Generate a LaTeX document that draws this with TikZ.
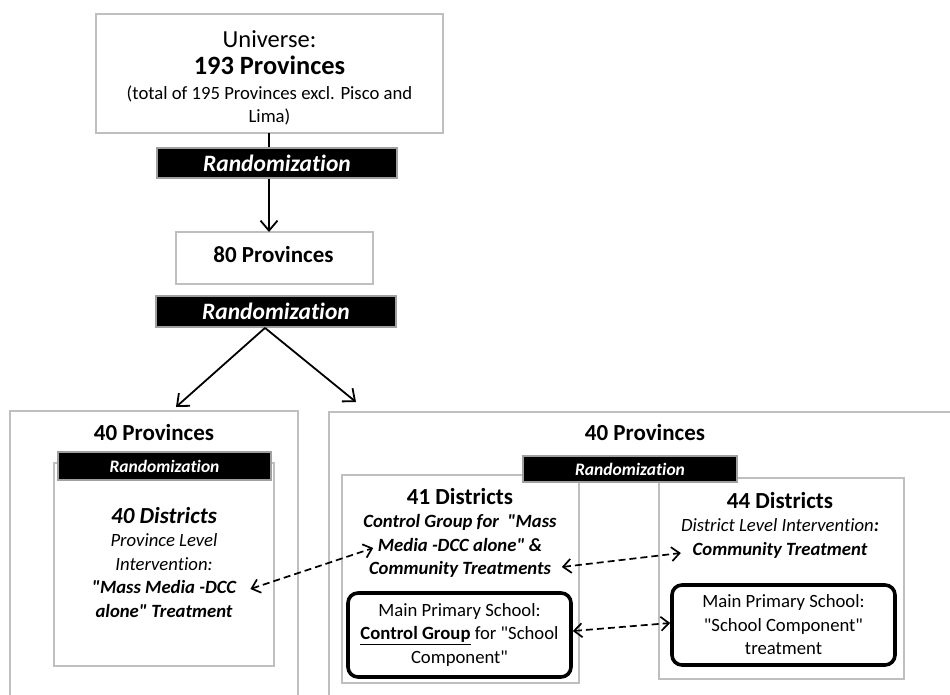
\documentclass[tikz,border=0pt]{standalone}
\usepackage{fontspec}
\setmainfont{Carlito}
\newfontfamily\calibri{Carlito}[Ligatures=CommonOff]
\usetikzlibrary{arrows.meta,positioning,calc}
\definecolor{FrameGray}{RGB}{191,191,191}
\definecolor{BarGray}{RGB}{160,160,160}

\begin{document}
\begin{tikzpicture}[x=1pt,y=-1pt,
  frame/.style={draw=FrameGray,line width=1.8pt,inner sep=0pt,outer sep=0pt},
  bar/.style={fill=black,draw=BarGray,line width=1.8pt,text=white,inner sep=0pt,font=\calibri\fontsize{23.5}{27}\selectfont\bfseries\itshape},
  minibar/.style={bar,font=\calibri\fontsize{17.5}{21}\selectfont\bfseries\itshape},
  school/.style={draw=black,line width=3.6pt,rounded corners=10pt,fill=white,align=center,inner sep=0pt,font=\calibri\fontsize{18.7}{23.5}\selectfont},
  txt/.style={align=center,inner sep=0pt,font=\calibri\fontsize{18.7}{23.5}\selectfont},
  head/.style={inner sep=0pt,font=\calibri\fontsize{23}{27}\selectfont\bfseries},
  split/.style={line width=1.8pt,-{Straight Barb[length=10pt,width=17pt]}},
  pair/.style={line width=1.7pt,dash pattern=on 7pt off 4pt,{Straight Barb[length=8pt,width=14pt]}-{Straight Barb[length=8pt,width=14pt]}}
]
  \useasboundingbox (0,0) rectangle (950,694);
  \clip (0,0) rectangle (950,694);

  % top of the tree
  \node[frame,minimum width=347,minimum height=119] (uni) at (269.5,73.5) {};
  \node[txt] (uniT) at (269.5,78) {{\fontsize{24.5}{28}\selectfont Universe:}\\[4pt]
    {\fontsize{26.4}{28}\selectfont\bfseries 193 Provinces}\\[1pt]
    (total of 195 Provinces excl. Pisco and\\
    Lima)};
  \node[bar,minimum width=240,minimum height=30] (rand1) at (277,163) {Randomization};
  \node[frame,minimum width=197,minimum height=52] (p80) at (274.5,258) {};
  \node[head] (p80T) at (273.5,255) {80 Provinces};
  \node[bar,minimum width=240,minimum height=31] (rand2) at (276,311.5) {Randomization};
  \coordinate (axis) at (269,0);

  % left arm
  \node[frame,minimum width=288,minimum height=320] (left) at (154,571) {};
  \node[head] (leftT) at (154,433) {40 Provinces};
  \node[frame,minimum width=220,minimum height=203] (d40) at (164,564.5) {};
  \node[minibar,minimum width=213,minimum height=28] (rand3) at (164.5,466) {Randomization};
  \node[txt,font=\calibri\fontsize{18.7}{23.5}\selectfont\itshape] (d40T) at (164,562) {{\fontsize{23}{26}\selectfont\bfseries 40 Districts}\\
    Province Level\\ Intervention:\\
    \textbf{"Mass Media -DCC}\\ \textbf{alone" Treatment}};

  % right arm
  \node[frame,minimum width=651,minimum height=320] (right) at (654.5,572) {};
  \node[head] (rightT) at (645,433) {40 Provinces};
  \node[frame,minimum width=237,minimum height=208] (d41) at (460.5,579) {};
  \node[frame,minimum width=245,minimum height=201] (d44) at (781.5,578.5) {};
  \node[minibar,minimum width=214,minimum height=26] (rand4) at (630,469) {Randomization};
  \node[txt,font=\calibri\fontsize{18.7}{23.5}\selectfont\bfseries\itshape] (d41T) at (460,533) {{\fontsize{23}{26}\selectfont\upshape 41 Districts}\\
    Control Group for~ "Mass\\ Media -DCC alone" \&\\ Community Treatments};
  \node[txt,font=\calibri\fontsize{18.7}{23.5}\selectfont\itshape] (d44T) at (780,525) {{\fontsize{23}{26}\selectfont\bfseries\upshape 44 Districts}\\
    District Level Intervention\textbf{:}\\ \textbf{Community Treatment}};
  \node[school,minimum width=223,minimum height=84] (s41) at (459.5,635) {Main Primary School:\\
    \underline{\textbf{Control Group}} for "School\\ Component"};
  \node[school,minimum width=223,minimum height=80] (s44) at (783.5,625) {Main Primary School:\\
    "School Component"\\ treatment};

  % links
  \draw[line width=1.8pt] (uni.south -| axis) -- (rand1.north -| axis);
  \draw[split] (rand1.south -| axis) -- (p80.north -| axis);
  \draw[split] (rand2.south) ++(-11,0) coordinate (fork) -- ([xshift=22pt,yshift=4pt]left.north);
  \draw[split] (fork) -- ([xshift=27pt,yshift=10pt]right.north west);
  \draw[pair] ([xshift=14pt,yshift=-27pt]d40T.east) -- ([xshift=10pt,yshift=-15pt]d41T.west);
  \draw[pair] ([xshift=5pt,yshift=-34pt]d41T.east) -- ([yshift=-28pt]d44T.west);
  \draw[pair] ([yshift=4pt]s41.east) -- ([yshift=2pt]s44.west);
\end{tikzpicture}
\end{document}
